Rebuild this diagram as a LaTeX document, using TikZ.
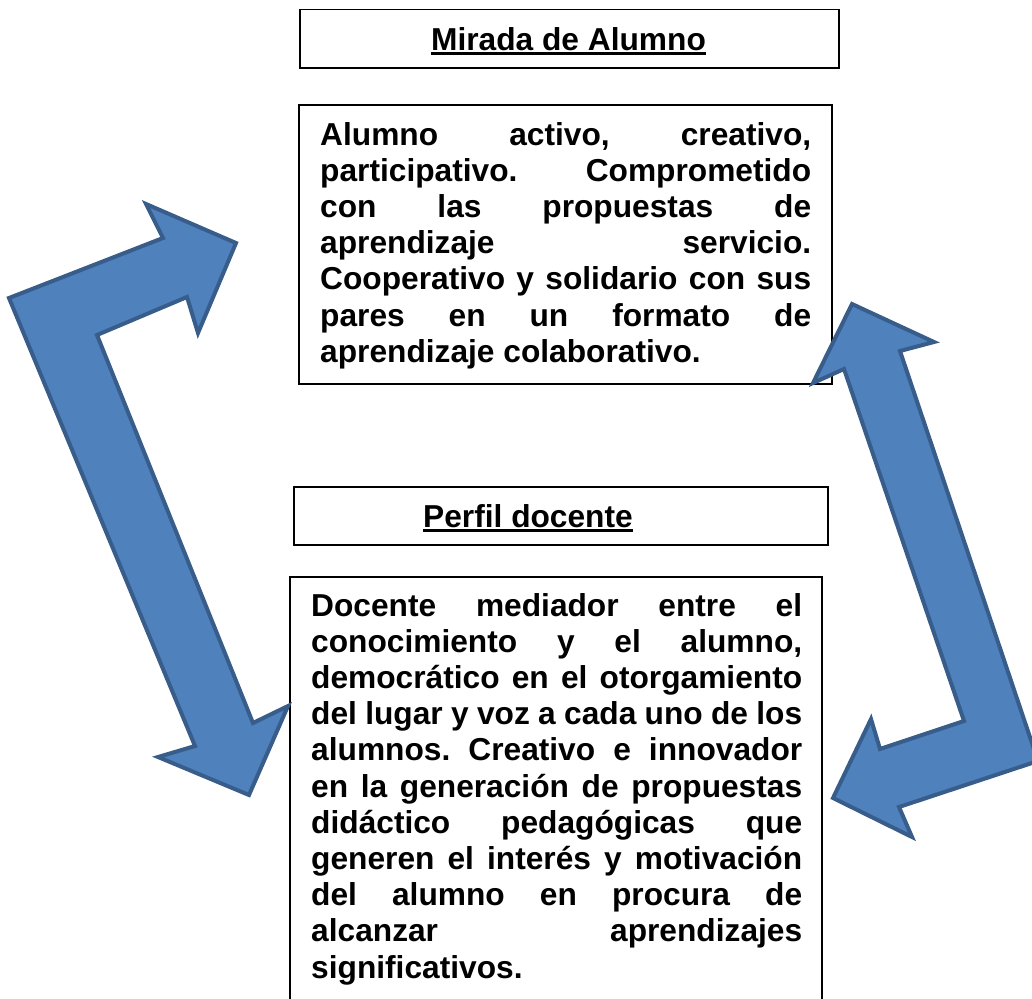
\documentclass[tikz,border=0pt]{standalone}
\usepackage{fontspec}
\setmainfont{Liberation Sans}
\frenchspacing
\definecolor{arrowfill}{HTML}{4F81BD}
\definecolor{arrowline}{HTML}{385D8A}
\newcommand{\jl}[1]{\makebox[491pt][s]{#1}\\}
\tikzset{
  box/.style={draw=black, line width=1.5pt, inner sep=0pt, anchor=north west},
  bentarrow/.style={fill=arrowfill, draw=arrowline, line width=4pt, line join=miter},
  bodytext/.style={anchor=base west, inner sep=0pt, font=\bfseries\fontsize{31.7}{36.2}\selectfont},
  titletext/.style={anchor=base, inner sep=0pt, font=\bfseries\fontsize{31.7}{36.2}\selectfont},
  uline/.style={line width=2.4pt}
}
\begin{document}
\begin{tikzpicture}[x=1pt,y=-1pt]
\useasboundingbox (0,0) rectangle (1032,998);
\clip (0,0) rectangle (1032,998);
% boxes
\node[box, minimum width=539pt, minimum height=58pt] (b1) at (299,9) {};
\node[box, minimum width=533pt, minimum height=279pt] (b2) at (298,104) {};
\node[box, minimum width=534pt, minimum height=58pt] (b3) at (293,486) {};
\node[box, minimum width=532pt, minimum height=440pt] (b4) at (289,576) {};
% titles
\node[titletext] (mirada) at (568.5,50) {Mirada de Alumno};
\draw[uline] ([yshift=-3.5pt]mirada.base west) -- ([yshift=-3.5pt]mirada.base east);
\node[titletext] (perfil) at (528,527) {Perfil docente};
\draw[uline] ([yshift=-3.5pt]perfil.base west) -- ([yshift=-3.5pt]perfil.base east);
% body texts
\node[bodytext] (alumno) at (320,145) {\begin{minipage}[t]{491pt}
\jl{Alumno activo, creativo,}
\jl{participativo. Comprometido}
\jl{con las propuestas de}
\jl{aprendizaje servicio.}
\jl{Cooperativo y solidario con sus}
\jl{pares en un formato de}
aprendizaje colaborativo.
\end{minipage}};
\node[bodytext] (docente) at (311,616) {\begin{minipage}[t]{491pt}
\jl{Docente mediador entre el}
\jl{conocimiento y el alumno,}
\jl{democrático en el otorgamiento}
\jl{del lugar y voz a cada uno de los}
\jl{alumnos. Creativo e innovador}
\jl{en la generación de propuestas}
\jl{didáctico pedagógicas que}
\jl{generen el interés y motivación}
\jl{del alumno en procura de}
\jl{alcanzar aprendizajes}
significativos.
\end{minipage}};
% left bent double arrow
\draw[bentarrow] (236,243) -- (198,333) -- (187,297) -- (97,335) -- (253,723)
  -- (288,706) -- (249,795) -- (158,757) -- (195,746) -- (9,298)
  -- (163,238) -- (146,204) -- cycle;
% right bent double arrow
\draw[bentarrow] (852,304) -- (934,342) -- (900,351) -- (1038,761) -- (899,807)
  -- (912,837) -- (833,798) -- (871,719) -- (880,749) -- (964,721)
  -- (844,369) -- (813,383) -- cycle;
\end{tikzpicture}
\end{document}
